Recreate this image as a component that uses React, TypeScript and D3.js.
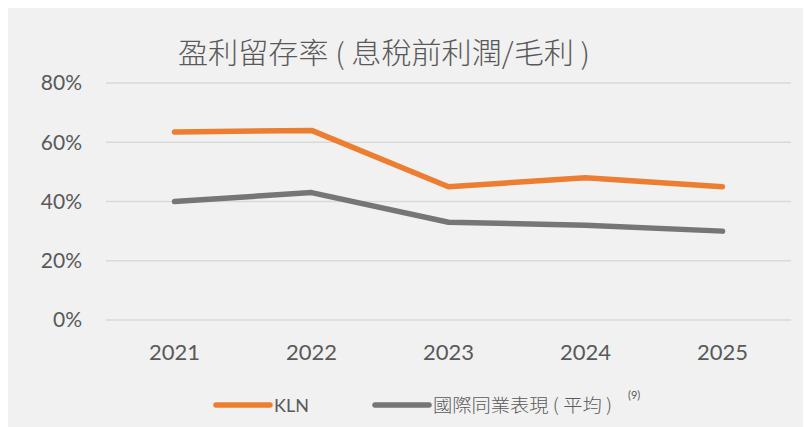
import React, { useEffect } from "react";
import * as d3 from "d3";

const years = ["2021", "2022", "2023", "2024", "2025"];
const klnValues = [63.5, 64, 45, 48, 45];
const peerValues = [40, 43, 33, 32, 30];
const yTicks = [0, 20, 40, 60, 80];
const titleText = "盈利留存率 ( 息稅前利潤/毛利 )";
const seriesNames = ["KLN", "國際同業表現 ( 平均 )"];
const footnote = "(9)";

const W = 803;
const H = 419;
const ORANGE = "#ED7D31";
const GREY = "#767676";
const TEXT = "#595959";
const LATO = "Lato, 'Noto Sans CJK TC', sans-serif";
const CJK = "'Noto Sans CJK TC', Lato, sans-serif";

export default function App() {
  useEffect(() => {
    document.documentElement.style.overflow = "hidden";
  }, []);

  const x = d3.scalePoint<string>().domain(years).range([98, 783]).padding(0.5);
  const y = d3.scaleLinear().domain([0, 80]).range([312, 75]);
  const line = d3
    .line<number>()
    .x((_, i) => x(years[i]) as number)
    .y((d) => y(d));

  return (
    <svg width={W} height={H} style={{ display: "block" }}>
      <rect x={0} y={0} width={W} height={H} fill="#F1F1F1" />
      <text
        x={170}
        y={56}
        fontFamily={CJK}
        fontWeight={300}
        fontSize={29}
        fill={TEXT}
        textLength={412}
        lengthAdjust="spacingAndGlyphs"
      >
        {titleText}
      </text>
      {yTicks.map((t) => (
        <g key={t}>
          <line x1={98} x2={783} y1={y(t)} y2={y(t)} stroke="#D9D9D9" strokeWidth={1.3} />
          <text
            x={74}
            y={y(t)}
            dy="0.35em"
            textAnchor="end"
            fontFamily={LATO}
            fontSize={21}
            fill={TEXT}
          >
            {t + "%"}
          </text>
        </g>
      ))}
      {years.map((yr) => (
        <text
          key={yr}
          x={x(yr) as number}
          y={352}
          textAnchor="middle"
          fontFamily={LATO}
          fontSize={22}
          fill={TEXT}
        >
          {yr}
        </text>
      ))}
      <path d={line(peerValues) || ""} fill="none" stroke={GREY} strokeWidth={5.5} strokeLinecap="round" strokeLinejoin="round" />
      <path d={line(klnValues) || ""} fill="none" stroke={ORANGE} strokeWidth={5.5} strokeLinecap="round" strokeLinejoin="round" />
      <g>
        <line x1={208} x2={262} y1={397} y2={397} stroke={ORANGE} strokeWidth={5.5} strokeLinecap="round" />
        <text x={266} y={404} fontFamily={LATO} fontSize={18} fill={TEXT}>
          {seriesNames[0]}
        </text>
        <line x1={367} x2={421} y1={397} y2={397} stroke={GREY} strokeWidth={5.5} strokeLinecap="round" />
        <text x={425} y={404} fontFamily={CJK} fontWeight={300} fontSize={18} fill={TEXT} textLength={179} lengthAdjust="spacingAndGlyphs">
          {seriesNames[1]}
        </text>
        <text x={620} y={391} fontFamily={LATO} fontSize={11} fill={TEXT}>
          {footnote}
        </text>
      </g>
    </svg>
  );
}
